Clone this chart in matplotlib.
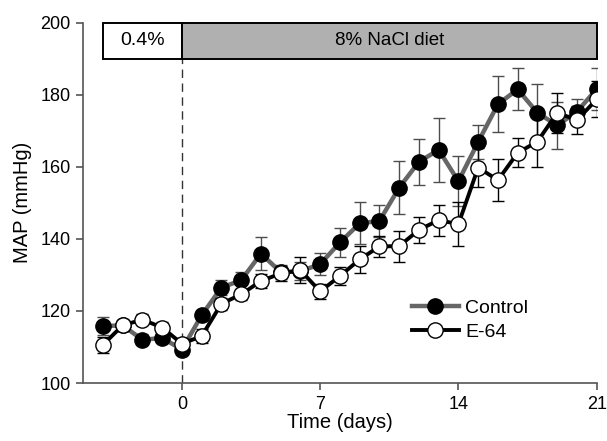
import numpy as np
import matplotlib.pyplot as plt
from matplotlib.patches import Rectangle

plt.rcParams['font.family'] = ['Liberation Sans', 'DejaVu Sans']

days = np.arange(-4, 22)
control = [115.8, 116.0, 112.0, 112.5, 109.3, 118.8, 126.5, 128.5, 135.9, 130.8, 131.0,
           133.0, 139.0, 144.3, 145.0, 154.2, 161.4, 164.7, 156.0, 166.9, 177.4, 181.5,
           175.0, 171.5, 175.3, 181.6]
control_sem = [2.4, 1.5, 1.5, 1.5, 1.5, 1.5, 2.2, 2.3, 4.6, 2.0, 2.5,
               3.0, 4.0, 5.8, 4.5, 7.4, 6.4, 8.8, 7.0, 4.8, 7.7, 5.8,
               8.0, 6.5, 3.5, 5.8]
e64 = [110.6, 116.0, 117.6, 115.4, 110.9, 113.0, 122.0, 124.6, 128.3, 130.4, 131.3,
       125.4, 129.7, 134.3, 137.9, 138.0, 142.5, 145.2, 144.1, 159.8, 156.3, 163.9,
       167.0, 175.0, 173.0, 178.7]
e64_sem = [2.3, 1.5, 1.5, 1.5, 1.5, 2.0, 1.7, 1.5, 2.0, 2.0, 3.6,
           2.0, 2.5, 3.7, 3.0, 4.3, 3.7, 4.3, 6.0, 5.5, 5.8, 4.0,
           7.0, 5.5, 4.0, 5.0]

fig = plt.figure(figsize=(6.07, 4.41), dpi=100)
ax = fig.add_axes([0.137, 0.1315, 0.846, 0.817])

axis_gray = '#555555'

# control
ax.errorbar(days, control, yerr=control_sem, fmt='none', ecolor='#4d4d4d',
            elinewidth=1.0, capsize=4, capthick=1.0, zorder=2)
ax.plot(days, control, '-o', color='#666666', lw=3.2, ms=11,
        mfc='black', mec='black', mew=1, label='Control', zorder=3)

# E-64
ax.errorbar(days, e64, yerr=e64_sem, fmt='none', ecolor='black',
            elinewidth=1.0, capsize=4, capthick=1.0, zorder=4)
ax.plot(days, e64, '-o', color='black', lw=2.8, ms=11,
        mfc='white', mec='black', mew=1, label='E-64', zorder=5)

# diet bar
ax.add_patch(Rectangle((-4, 190), 4, 10, facecolor='white', edgecolor='black',
                       lw=1.4, zorder=6, clip_on=False))
ax.add_patch(Rectangle((0, 190), 21, 10, facecolor='#b0b0b0', edgecolor='black',
                       lw=1.4, zorder=6, clip_on=False))
ax.text(-2, 195, '0.4%', ha='center', va='center', fontsize=14, zorder=7)
ax.text(10.5, 195, '8% NaCl diet', ha='center', va='center', fontsize=13.5, zorder=7)

ax.plot([0, 0], [100, 190], color='#333333', lw=1, dashes=(6, 4), zorder=1)

ax.set_xlim(-5, 21)
ax.set_ylim(100, 200)
ax.set_xticks([0, 7, 14, 21])
ax.set_yticks(np.arange(100, 201, 20))
ax.set_xlabel('Time (days)', fontsize=14.5, labelpad=0)
ax.set_ylabel('MAP (mmHg)', fontsize=14.5, labelpad=6)

for s in ['top', 'right']:
    ax.spines[s].set_visible(False)
for s in ['left', 'bottom']:
    ax.spines[s].set_color(axis_gray)
    ax.spines[s].set_linewidth(1.2)
ax.tick_params(direction='out', length=5, width=1.2, color=axis_gray,
               labelsize=13, pad=4)

ax.legend(loc='lower right', bbox_to_anchor=(0.882, 0.096), frameon=False,
          handlelength=2.4, fontsize=14, handletextpad=0.35, labelspacing=0.3,
          borderaxespad=0)

fig.savefig('out.png', dpi=100)
